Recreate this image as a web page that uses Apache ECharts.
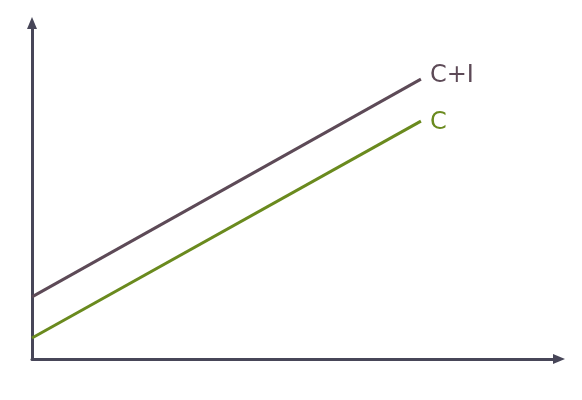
<!DOCTYPE html>
<html><head><meta charset="utf-8">
<script src="https://cdn.jsdelivr.net/npm/echarts@6/dist/echarts.min.js"></script>
<style>html,body{margin:0;padding:0;background:#fff}#c{width:582px;height:400px}</style>
</head><body><div id="c"></div>
<script>
var xValues = [0, 73.8];
var seriesNames = ['C+I', 'C'];
var ciValues = [18.5, 83.3];
var cValues = [6.25, 70.8];

var chart = echarts.init(document.getElementById('c'));
function pts(v){ return xValues.map(function(x,i){return [x, v[i]];}); }
chart.setOption({
  animation: false,
  grid: {left: 32, right: 23, top: 23, bottom: 41},
  xAxis: {type: 'value', min: 0, max: 100,
    axisLine: {show: true, symbol: ['none','triangle'], symbolSize: [10, 12], lineStyle: {color: '#474658', width: 3}},
    axisTick: {show: false}, axisLabel: {show: false}, splitLine: {show: false}},
  yAxis: {type: 'value', min: 0, max: 100,
    axisLine: {show: true, symbol: ['none','triangle'], symbolSize: [10, 12], lineStyle: {color: '#474658', width: 3}},
    axisTick: {show: false}, axisLabel: {show: false}, splitLine: {show: false}},
  series: [
    {name: seriesNames[0], type: 'line', data: pts(ciValues), symbol: 'none',
     lineStyle: {color: '#5d4a57', width: 3},
     endLabel: {show: true, formatter: seriesNames[0], color: '#5d4a57', fontSize: 24, fontFamily: 'DejaVu Sans', distance: 9, offset: [0, -3]}},
    {name: seriesNames[1], type: 'line', data: pts(cValues), symbol: 'none',
     lineStyle: {color: '#6a8a1e', width: 3},
     endLabel: {show: true, formatter: seriesNames[1], color: '#6a8a1e', fontSize: 24, fontFamily: 'DejaVu Sans', distance: 9, offset: [0, 2]}}
  ]
});
</script></body></html>
